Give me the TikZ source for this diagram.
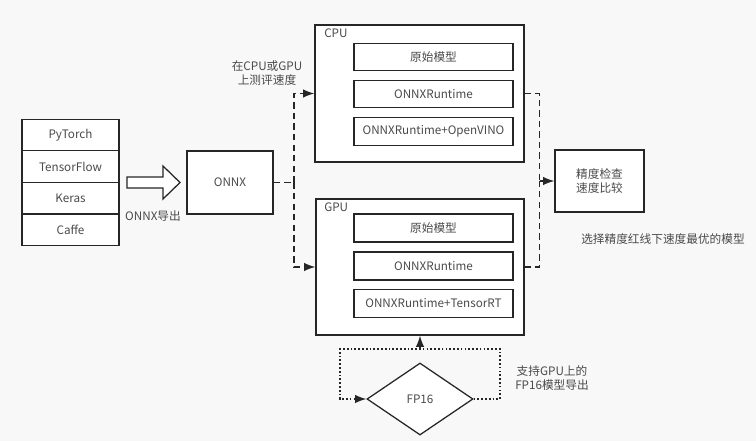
\documentclass[tikz,border=0pt]{standalone}
\usepackage{fontspec}
\setmainfont{Noto Sans CJK SC}
\usetikzlibrary{arrows.meta,shapes.geometric}
\definecolor{bgcol}{HTML}{F8F8F8}
\definecolor{txtcol}{HTML}{4A4A4A}
\definecolor{linecol}{HTML}{262626}
\tikzset{
  box/.style={draw=linecol, fill=white, line width=0.9pt, inner sep=0pt, text=txtcol,
    font=\fontsize{8.3}{10.5}\selectfont, align=center},
  lbl/.style={text=txtcol, inner sep=0pt, font=\fontsize{8.3}{10.5}\selectfont, align=center},
  dashline/.style={draw=linecol, line width=0.9pt, dash pattern=on 4.5pt off 3pt},
  dotline/.style={draw=linecol, line width=0.9pt, dash pattern=on 1.2pt off 1.5pt}
}
\begin{document}
\begin{tikzpicture}[x=0.025cm, y=-0.025cm, >={Latex[length=8pt,width=6pt]}]
\fill[bgcol] (0,0) rectangle (756,441);

% frameworks
\node[box, minimum width=2.425cm, minimum height=0.79cm] (pytorch) at (70.5,135) {PyTorch};
\node[box, minimum width=2.425cm, minimum height=0.79cm] (tf) at (70.5,166.5) {TensorFlow};
\node[box, minimum width=2.425cm, minimum height=0.79cm] (keras) at (70.5,198) {Keras};
\node[box, minimum width=2.425cm, minimum height=0.79cm] (caffe) at (70.5,230) {Caffe};

% export arrow
\draw[draw=linecol, fill=white, line width=0.9pt] (127,177) -- (163,177) -- (163,166) -- (180,182.5)
  -- (163,199) -- (163,188) -- (127,188) -- cycle;
\node[lbl] (export) at (153,216) {ONNX导出};

\node[box, minimum width=2.15cm, minimum height=1.575cm] (onnx) at (230,182.5) {ONNX};

% CPU
\node[box, minimum width=5.225cm, minimum height=3.425cm] (cpu) at (419.5,93.5) {};
\node[lbl, anchor=north west] (cpulbl) at (324,29) {CPU};
\node[box, minimum width=3.975cm, minimum height=0.69cm] (cpuraw) at (433.5,57) {原始模型};
\node[box, minimum width=3.975cm, minimum height=0.69cm] (cpuort) at (433.5,94) {ONNXRuntime};
\node[box, minimum width=3.975cm, minimum height=0.69cm] (cpuov) at (433.5,131.5) {ONNXRuntime+OpenVINO};

% GPU
\node[box, minimum width=5.2cm, minimum height=3.4cm] (gpu) at (420,267) {};
\node[lbl, anchor=north west] (gpulbl) at (324,203) {GPU};
\node[box, minimum width=3.975cm, minimum height=0.7cm] (gpuraw) at (433.5,228) {原始模型};
\node[box, minimum width=3.975cm, minimum height=0.7cm] (gpuort) at (433.5,266) {ONNXRuntime};
\node[box, minimum width=3.975cm, minimum height=0.7cm] (gpurt) at (433.5,303.5) {ONNXRuntime+TensorRT};

\node[lbl] (evallbl) at (267,73) {在CPU或GPU\\上测评速度};

\node[box, minimum width=2.225cm, minimum height=1.55cm] (check) at (599.5,181) {精度检查\\速度比较};
\node[lbl] (pick) at (663,239) {选择精度红线下速度最优的模型};

% FP16
\node[box, diamond, aspect=1.47, minimum width=2.65cm, minimum height=1.8cm] (fp16) at (420,399) {FP16};
\node[lbl] (fp16lbl) at (552,378) {支持GPU上的\\FP16模型导出};

% connectors
\coordinate (split) at (294,182.5);
\draw[dashline] (onnx.east) -- (split);
\draw[dashline,->] (split) |- (cpu.west);
\draw[dashline,->] (split) |- (gpu.west);
\coordinate (join) at (539.5,181);
\draw[dashline] (cpu.east) -| (join);
\draw[dashline] (gpu.east) -| (join);
\draw[dashline,->] (join) -- (check.west);

\coordinate (loopr) at (500,349);
\coordinate (loopl) at (340,349);
\draw[dotline,->] (fp16.east) -| (loopr) -- (loopl) |- (fp16.west);
\draw[dotline,->] (fp16.north |- loopr) -- (gpu.south);
\end{tikzpicture}
\end{document}
